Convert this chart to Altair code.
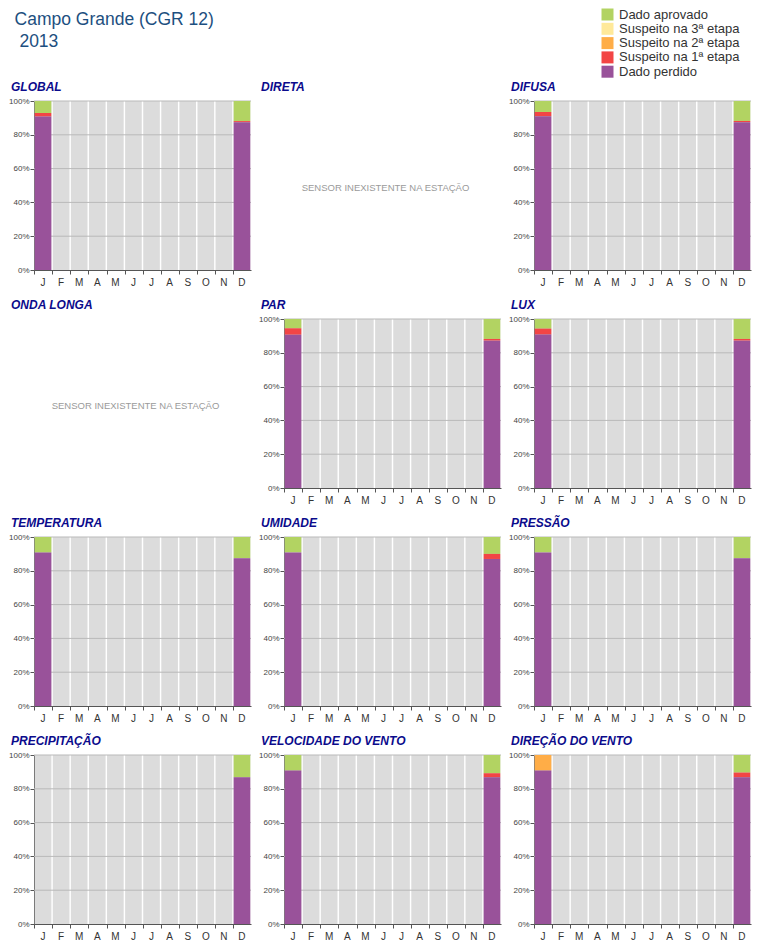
import altair as alt
import pandas as pd

MONTHS = ["Jan", "Fev", "Mar", "Abr", "Mai", "Jun", "Jul", "Ago", "Set", "Out", "Nov", "Dez"]
CATEGORIES = ["Dado aprovado", "Suspeito na 3ª etapa", "Suspeito na 2ª etapa",
              "Suspeito na 1ª etapa", "Dado perdido"]
COLORS = ["#b2d362", "#ffe99a", "#ffad47", "#f24545", "#99529a"]
STACK_ORDER = [4, 3, 2, 1, 0]          # purple at the bottom, green on top
GRID_VALUES = [20, 40, 60, 80, 100]
NOTE = "SENSOR INEXISTENTE NA ESTAÇÃO"

# shares per month, in CATEGORIES order: aprovado, 3a, 2a, 1a, perdido
GLOBAL_JAN = [7.1, 0, 0, 2.1, 90.8]
GLOBAL_DEC = [11.9, 0, 0, 0.6, 87.5]
DIFUSA_JAN = [6.5, 0, 0, 2.5, 91.0]
DIFUSA_DEC = [11.8, 0, 0, 0.7, 87.5]
PAR_JAN = [5.5, 0, 0, 3.8, 90.7]
PAR_DEC = [11.8, 0, 0, 1.0, 87.2]
LUX_JAN = [5.7, 0, 0, 3.5, 90.8]
LUX_DEC = [11.8, 0, 0, 1.0, 87.2]
TEMP_JAN = [9.1, 0, 0, 0, 90.9]
TEMP_DEC = [12.5, 0, 0, 0, 87.5]
UMID_JAN = [9.1, 0, 0, 0, 90.9]
UMID_DEC = [10.0, 0, 0, 3.0, 87.0]
PRES_JAN = [9.1, 0, 0, 0, 90.9]
PRES_DEC = [12.5, 0, 0, 0, 87.5]
PREC_JAN = [0, 0, 0, 0, 0]
PREC_DEC = [13.2, 0, 0, 0, 86.8]
VEL_JAN = [9.2, 0, 0, 0, 90.8]
VEL_DEC = [10.8, 0, 0, 2.4, 86.8]
DIR_JAN = [0, 0, 9.2, 0, 90.8]
DIR_DEC = [10.4, 0, 0, 2.8, 86.8]

PANELS = [
    ("GLOBAL", GLOBAL_JAN, GLOBAL_DEC),
    ("DIRETA", None, None),
    ("DIFUSA", DIFUSA_JAN, DIFUSA_DEC),
    ("ONDA LONGA", None, None),
    ("PAR", PAR_JAN, PAR_DEC),
    ("LUX", LUX_JAN, LUX_DEC),
    ("TEMPERATURA", TEMP_JAN, TEMP_DEC),
    ("UMIDADE", UMID_JAN, UMID_DEC),
    ("PRESSÃO", PRES_JAN, PRES_DEC),
    ("PRECIPITAÇÃO", PREC_JAN, PREC_DEC),
    ("VELOCIDADE DO VENTO", VEL_JAN, VEL_DEC),
    ("DIREÇÃO DO VENTO", DIR_JAN, DIR_DEC),
]

W, H = 217, 169

x_scale = alt.Scale(domain=MONTHS, paddingInner=0.08, paddingOuter=0.04)
y_scale = alt.Scale(domain=[0, 100], nice=False)
x_axis = alt.Axis(title=None, labelExpr="substring(datum.label, 0, 1)", labelAngle=0,
                  bandPosition=0, labelFontSize=10, labelColor="#333333",
                  labelPadding=3, tickSize=4, tickColor="#555555", domainColor="#555555")
y_axis = alt.Axis(title=None, values=[0, 20, 40, 60, 80, 100], labelExpr="datum.value + '%'",
                  labelFontSize=8, labelColor="#444444", tickSize=4, tickColor="#555555",
                  domainColor="#555555", grid=False, labelPadding=1)

title_style = dict(anchor="start", frame="group", fontSize=12, fontWeight="bold",
                   fontStyle="italic", color="#0b0b8c", font="Liberation Sans", dx=-23)

bg_df = pd.DataFrame({"month": MONTHS, "v": [100] * 12})
grid_df = pd.DataFrame({"v": GRID_VALUES})
no_border = alt.ViewBackground(stroke="transparent", strokeWidth=0)


def make_panel(name, jan, dec):
    if jan is None:
        return alt.Chart(pd.DataFrame({"t": [NOTE]})).mark_text(
            fontSize=9.5, color="#9a9a9a", font="Liberation Sans"
        ).encode(text="t:N", x=alt.value(W / 2 - 7), y=alt.value(H / 2 + 2)).properties(
            width=W, height=H, view=no_border,
            title=alt.TitleParams(name, offset=7, **title_style))
    rows = []
    for month, vals in (("Jan", jan), ("Dez", dec)):
        for cat, val, order in zip(CATEGORIES, vals, STACK_ORDER):
            if val > 0:
                rows.append({"month": month, "cat": cat, "value": val, "ord": order})
    df = pd.DataFrame(rows, columns=["month", "cat", "value", "ord"])
    bg = alt.Chart(bg_df).mark_bar(color="#dcdcdc").encode(
        x=alt.X("month:N", scale=x_scale, axis=x_axis, sort=MONTHS),
        y=alt.Y("v:Q", scale=y_scale, axis=y_axis))
    grid = alt.Chart(grid_df).mark_rule(color="#b9b9b9", strokeWidth=1).encode(
        y=alt.Y("v:Q", scale=y_scale, axis=y_axis))
    bars = alt.Chart(df).mark_bar().encode(
        x=alt.X("month:N", scale=x_scale, axis=x_axis, sort=MONTHS),
        y=alt.Y("value:Q", scale=y_scale, axis=y_axis, stack="zero"),
        color=alt.Color("cat:N", scale=alt.Scale(domain=CATEGORIES, range=COLORS),
                        legend=alt.Legend(title=None, orient="none", legendX=567, legendY=-93,
                                          symbolType="square", symbolSize=144,
                                          symbolStrokeWidth=0, symbolOpacity=1,
                                          labelFontSize=13, labelColor="#333333",
                                          labelFont="Liberation Sans", rowPadding=0.3,
                                          labelOffset=5)),
        order=alt.Order("ord:Q"))
    return alt.layer(bg, grid, bars).properties(
        width=W, height=H, view=no_border,
        title=alt.TitleParams(name, offset=3, **title_style))


panels = [make_panel(*p) for p in PANELS]

chart = alt.concat(*panels, columns=3, spacing={"row": 49, "column": 33}, bounds="flush").properties(
    title=alt.TitleParams(["Campo Grande (CGR 12)", "\u200b\u00a02013"], anchor="start", frame="bounds",
                          fontSize=17.5, fontWeight="normal", color="#1d4f80", font="Liberation Sans",
                          lineHeight=22, offset=-42, dx=6)
).configure_view(stroke="transparent", strokeWidth=0).configure(padding=0)

chart.save("out.html", embed_options={"renderer": "svg", "actions": False})
